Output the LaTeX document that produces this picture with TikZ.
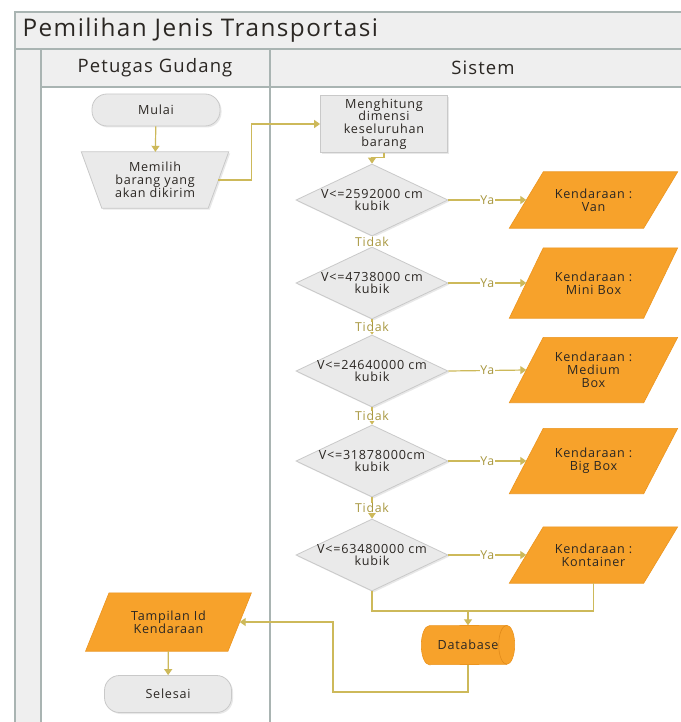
\documentclass[tikz,border=0pt]{standalone}
\usepackage{fontspec}
\setmainfont{Open Sans}[LetterSpace=6]
\usetikzlibrary{shapes.geometric,arrows.meta,shadows,calc}
\definecolor{frameline}{HTML}{A9B4B2}
\definecolor{framefill}{HTML}{EFEFEF}
\definecolor{flow}{HTML}{CDB95A}
\definecolor{flowtext}{HTML}{A8973F}
\definecolor{shapefill}{HTML}{EAEAEA}
\definecolor{shapeline}{HTML}{C9C9C9}
\definecolor{orangefill}{HTML}{F7A22B}
\definecolor{orangeline}{HTML}{EC951F}
\definecolor{orangeedge}{HTML}{E08A1A}
\definecolor{ink}{HTML}{2B2723}
\pgfdeclarelayer{back}
\pgfdeclarelayer{mid}
\pgfsetlayers{back,mid,main}
% parallelogram around a body node: top edge shifted right, bottom edge left
\newcommand\drawslant[3]{%
  \filldraw[#3] ($(#1.south west)+(-#2,0)$) -- ($(#1.south east)+(-#2,0)$)
    -- ($(#1.north east)+(#2,0)$) -- ($(#1.north west)+(#2,0)$) -- cycle;}
% trapezoid wider at the top than at the bottom
\newcommand\drawtaper[3]{%
  \filldraw[#3] ($(#1.south west)+(#2,0)$) -- ($(#1.south east)+(-#2,0)$)
    -- ($(#1.north east)+(#2,0)$) -- ($(#1.north west)+(-#2,0)$) -- cycle;}
\begin{document}
\begin{tikzpicture}[x=1pt,y=-1pt,
  every node/.style={font=\fontsize{12.6}{12.8}\selectfont, text=ink, align=center},
  lane/.style={draw=frameline, line width=1.4pt},
  graybox/.style={draw=shapeline, fill=shapefill, line width=0.8pt,
    drop shadow={opacity=0.18, shadow xshift=1.5pt, shadow yshift=-1.5pt}},
  terminal/.style={graybox, rectangle, rounded corners=15pt, minimum width=128pt, inner sep=0pt},
  procbox/.style={graybox, rectangle, minimum width=127pt, minimum height=57pt, inner sep=0pt},
  bodybox/.style={rectangle, inner sep=0pt},
  decision/.style={graybox, diamond, minimum width=152pt, minimum height=72pt, inner sep=0pt},
  orangeshape/.style={fill=orangefill, draw=orangeline, line width=0.6pt},
  flowline/.style={draw=flow, line width=1.2pt},
  flowarrow/.style={flowline, -{Triangle[length=6pt,width=8pt]}},
  branch/.style={text=flowtext, fill=white, inner sep=0.4pt, font=\fontsize{12.3}{12.5}\selectfont}
]
\useasboundingbox (0,0) rectangle (680,722);
\clip (0,0) rectangle (680,722);

% swimlane frame
\begin{pgfonlayer}{back}
\fill[white] (0,0) rectangle (680,722);
\filldraw[lane, fill=framefill] (15,12) rectangle (720,49);
\filldraw[lane, fill=framefill] (15,49) rectangle (41,760);
\filldraw[lane, fill=framefill] (41,49) rectangle (720,87);
\draw[lane] (41,87) rectangle (270,760);
\draw[lane] (270,49) -- (270,760);
\end{pgfonlayer}
\node[font=\fontsize{24.3}{27}\selectfont, anchor=west] (title) at (19,30) {Pemilihan Jenis Transportasi};
\node[font=\fontsize{18.5}{21}\selectfont] (laneA) at (155,68) {Petugas Gudang};
\node[font=\fontsize{18.5}{21}\selectfont] (laneB) at (483,68) {Sistem};

% left lane
\node[terminal, minimum height=32pt] (mulai) at (156,110) {Mulai};
\node[bodybox, minimum width=126.5pt, minimum height=56pt] (memilih) at (155,180) {Memilih\\barang yang\\akan dikirim};
\node[bodybox, minimum width=142pt, minimum height=58pt] (tampil) at (168.5,622) {Tampilan Id\\Kendaraan};
\node[terminal, minimum height=37pt, minimum width=127pt] (selesai) at (168,694) {Selesai};

% system lane
\node[procbox] (proc) at (384,124) {Menghitung\\dimensi\\keseluruhan\\barang};

\node[decision] (d1) at (372,200) {};
\node[decision] (d2) at (372,283) {};
\node[decision] (d3) at (372,371) {};
\node[decision] (d4) at (372,461) {};
\node[decision] (d5) at (372,555) {};
\node (t1) at (d1) {V<=2592000 cm\\kubik};
\node (t2) at (d2) {V<=4738000 cm\\kubik};
\node (t3) at (d3) {V<=24640000 cm\\kubik};
\node (t4) at (d4) {V<=31878000cm\\kubik};
\node (t5) at (d5) {V<=63480000 cm\\kubik};

\node[bodybox, minimum width=134pt, minimum height=56pt] (k1) at (593.5,200) {Kendaraan :\\Van};
\node[bodybox, minimum width=134pt, minimum height=70pt] (k2) at (593.5,283) {Kendaraan :\\Mini Box};
\node[bodybox, minimum width=134pt, minimum height=65pt] (k3) at (593.5,370) {Kendaraan :\\Medium\\Box};
\node[bodybox, minimum width=134pt, minimum height=65pt] (k4) at (593.5,461) {Kendaraan :\\Big Box};
\node[bodybox, minimum width=134pt, minimum height=56pt] (k5) at (593.5,555) {Kendaraan :\\Kontainer};

\node[bodybox, minimum width=93pt, minimum height=39pt] (db) at (468,645) {Database};

% outlines of the non-rectangular shapes, under the texts
\begin{pgfonlayer}{mid}
\drawtaper{memilih}{10.25}{graybox}
\drawslant{tampil}{11.75}{orangeshape}
\foreach \k in {k1,k2,k3,k4,k5}
  \drawslant{\k}{17}{orangeshape};
\begin{scope}[y=1pt]
  \filldraw[orangeshape] ($(db.north east)+(-8,0)$)
    arc[start angle=90, end angle=-90, x radius=8, y radius=19.5]
    -- ($(db.south west)+(8,0)$)
    arc[start angle=270, end angle=90, x radius=8, y radius=19.5] -- cycle;
  \draw[orangeedge, line width=0.6pt] ($(db.north east)+(-8,0)$)
    arc[start angle=90, end angle=270, x radius=8, y radius=19.5];
\end{scope}
\end{pgfonlayer}

\coordinate (join) at (468,611);
\coordinate (loop) at (333,692);

% connectors
\draw[flowarrow] (mulai) -- (memilih);
\draw[flowarrow] (memilih.east) -- ++(33,0) |- (proc.west);
\draw[flowarrow] (proc.south) -- ++(0,5) -| (d1.north);
\foreach \a/\b in {d1/d2,d2/d3,d3/d4,d4/d5}
  \draw[flowarrow] (\a.south) -- node[branch] {Tidak} (\b.north);
\foreach \a/\b in {d1/k1,d2/k2,d3/k3,d4/k4,d5/k5}
  \draw[flowarrow] (\a.east) -- node[branch] {Ya} (\b.west);
\draw[flowline] (d5.south) |- (join);
\draw[flowline] (k5.south) |- (join);
\draw[flowarrow] (join) -- (db.north);
\draw[flowarrow] (db.south) |- (loop) |- (tampil.east);
\draw[flowarrow] (tampil) -- (selesai);
\end{tikzpicture}
\end{document}
